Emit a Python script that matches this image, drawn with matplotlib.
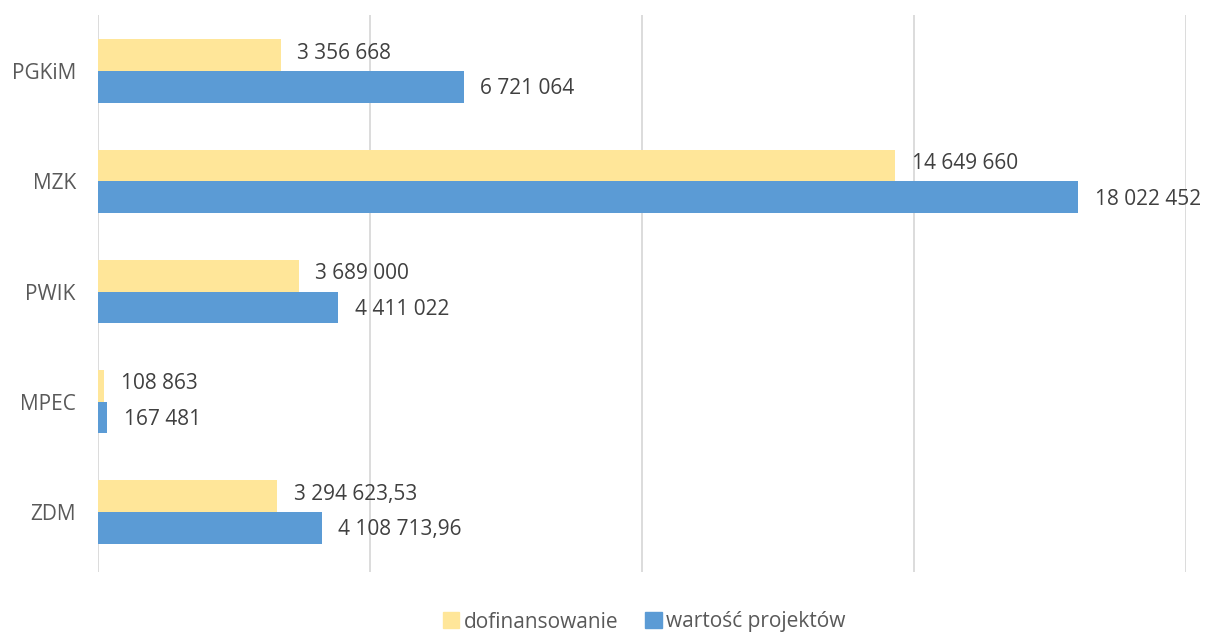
import numpy as np
import matplotlib.pyplot as plt
from matplotlib.patches import Patch

# dane
kategorie = ["PGKiM", "MZK", "PWIK", "MPEC", "ZDM"]
dofinansowanie = [3356668, 14649660, 3689000, 108863, 3294623.53]
wartosc = [6721064, 18022452, 4411022, 167481, 4108713.96]
etykiety_dof = ["3 356 668", "14 649 660", "3 689 000", "108 863", "3 294 623,53"]
etykiety_wart = ["6 721 064", "18 022 452", "4 411 022", "167 481", "4 108 713,96"]

plt.rcParams['font.family'] = ['Open Sans', 'DejaVu Sans']

kolor_dof = '#FFE699'
kolor_wart = '#5B9BD5'

fig = plt.figure(figsize=(12.06, 6.35), dpi=100)
ax = fig.add_axes([98 / 1206, 1 - 572 / 635, 1088 / 1206, 557 / 635])

y = np.arange(len(kategorie))
h = 0.286

ax.barh(y - h / 2, dofinansowanie, height=h, color=kolor_dof, zorder=2)
ax.barh(y + h / 2, wartosc, height=h, color=kolor_wart, zorder=2)

for yi, v, t in zip(y, dofinansowanie, etykiety_dof):
    ax.annotate(t, (v, yi - h / 2), xytext=(12, 1.5), textcoords='offset points',
                va='center', ha='left', fontsize=15, color='#404040')
for yi, v, t in zip(y, wartosc, etykiety_wart):
    ax.annotate(t, (v, yi + h / 2), xytext=(12, -1.5), textcoords='offset points',
                va='center', ha='left', fontsize=15, color='#404040')

ax.set_xlim(0, 20000000)
ax.set_xticks([0, 5000000, 10000000, 15000000, 20000000])
ax.set_xticklabels([])
ax.tick_params(axis='x', length=0)
ax.set_ylim(4.544, -0.508)
ax.set_yticks(y)
ax.set_yticklabels(kategorie, fontsize=15, color='#595959')
ax.tick_params(axis='y', length=0, pad=16)
ax.grid(axis='x', color='#D9D9D9', linewidth=1.3, zorder=0)
for s in ax.spines.values():
    s.set_visible(False)

uchwyty = [Patch(color=kolor_dof, label='dofinansowanie'),
           Patch(color=kolor_wart, label='wartość projektów')]
fig.legend(handles=uchwyty, loc='center', bbox_to_anchor=(0.534, 1 - 622 / 635),
           ncol=2, frameon=False, fontsize=15, handlelength=0.8, handleheight=0.8,
           handletextpad=0.2, columnspacing=1.3, labelcolor='#595959')

fig.savefig('out.png', dpi=100)
